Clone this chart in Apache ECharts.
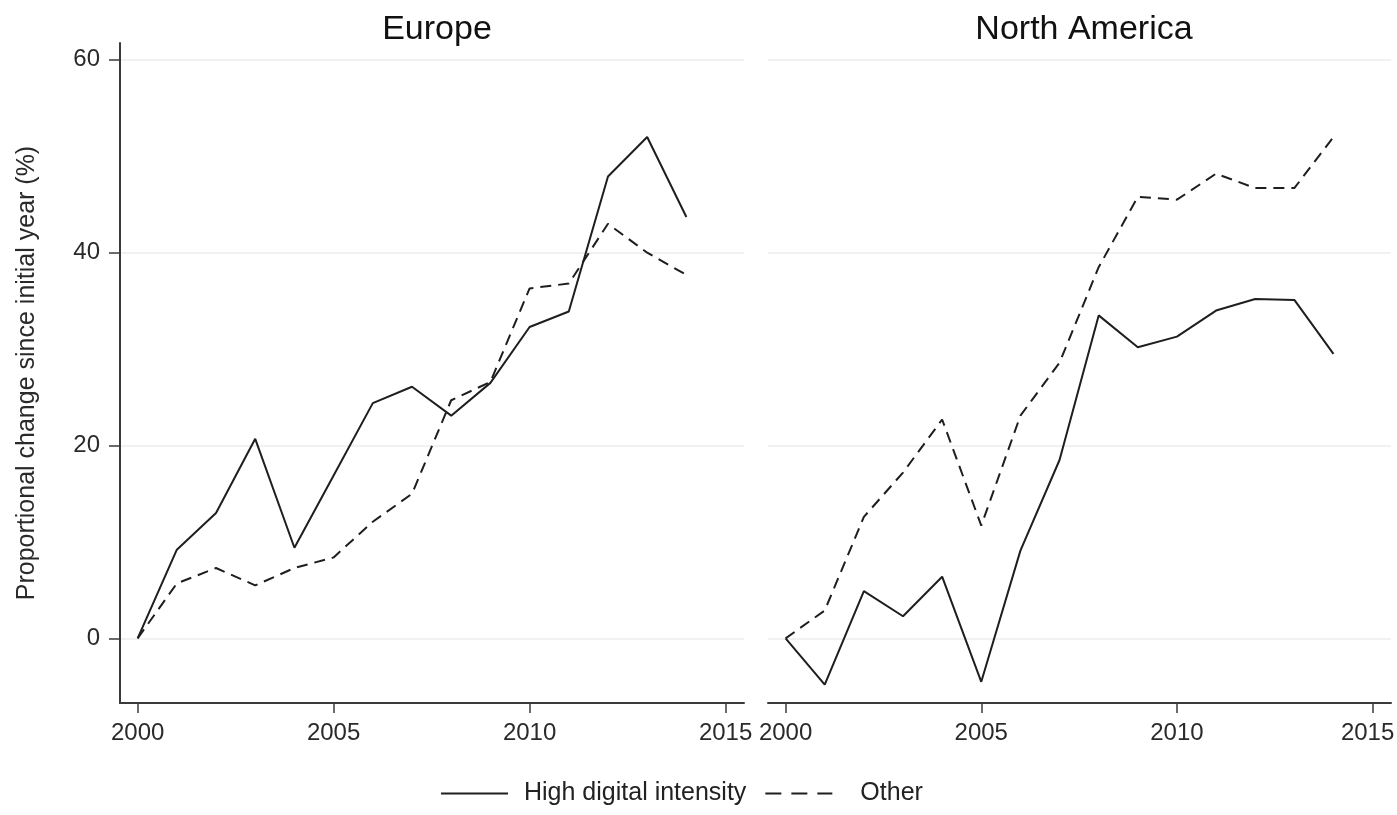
<!DOCTYPE html>
<html>
<head>
<meta charset="utf-8">
<script src="https://cdn.jsdelivr.net/npm/echarts@6/dist/echarts.min.js"></script>
<style>
  html, body { margin: 0; padding: 0; background: #fff; }
  #chart { width: 1397px; height: 815px; }
</style>
</head>
<body>
<div id="chart"></div>
<script>
// Years covered by both panels
const years = [2000, 2001, 2002, 2003, 2004, 2005, 2006, 2007, 2008, 2009, 2010, 2011, 2012, 2013, 2014];

// Proportional change since initial year (%), Europe
const europeHigh  = [0, 9.2, 13.0, 20.7, 9.4, 16.9, 24.4, 26.1, 23.1, 26.5, 32.3, 33.9, 47.9, 52.0, 43.7];
const europeOther = [0, 5.7, 7.3, 5.5, 7.3, 8.4, 12.1, 15.0, 24.7, 26.6, 36.3, 36.8, 43.0, 40.0, 37.7];

// Proportional change since initial year (%), North America
const naHigh  = [0, -4.8, 4.9, 2.3, 6.4, -4.5, 9.1, 18.5, 33.5, 30.2, 31.3, 34.0, 35.2, 35.1, 29.5];
const naOther = [0, 2.9, 12.6, 17.2, 22.7, 11.7, 23.1, 28.6, 38.5, 45.8, 45.5, 48.2, 46.7, 46.7, 52.0];

// Axis tick labels
const xTicks = [2000, 2005, 2010, 2015];
const yTicks = [0, 20, 40, 60];

const panelTitles = ['Europe', 'North America'];
const seriesNames = ['High digital intensity', 'Other'];
const yAxisTitle = 'Proportional change since initial year (%)';

const FONT = '"Liberation Sans", Arial, sans-serif';
const INK = '#1e1e1e';
const DASH = [11, 7];

const pairs = (vals) => years.map((y, i) => [y, vals[i]]);

function xAxisFor(gridIndex, nudgeLast) {
  const lastTick = xTicks[xTicks.length - 1];
  return {
    type: 'value',
    gridIndex: gridIndex,
    min: 1999.55,
    max: 2015.47,
    axisLine: { show: true, onZero: false, lineStyle: { color: '#3a3a3a', width: 2 } },
    axisTick: { show: true, customValues: xTicks, length: 10, lineStyle: { color: '#3a3a3a', width: 1.5 } },
    axisLabel: {
      customValues: xTicks, margin: 18, fontSize: 24, color: '#2a2a2a', fontFamily: FONT,
      // keep the right-most label of the outer panel inside the page
      formatter: (v) => (nudgeLast && v === lastTick) ? '{edge|' + v + '}' : String(v),
      rich: { edge: { fontSize: 24, color: '#2a2a2a', fontFamily: FONT, padding: [0, 10, 0, 0] } }
    },
    splitLine: { show: false }
  };
}

function yAxisFor(gridIndex, withAxis) {
  return {
    type: 'value',
    gridIndex: gridIndex,
    min: -6.7,
    max: 61.75,
    name: withAxis ? yAxisTitle : '',
    nameLocation: 'middle',
    nameGap: 80,
    nameTextStyle: { fontSize: 25, color: '#2a2a2a', fontFamily: FONT },
    axisLine: { show: withAxis, onZero: false, lineStyle: { color: '#3a3a3a', width: 2 } },
    axisTick: { show: withAxis, customValues: yTicks, length: 11, lineStyle: { color: '#3a3a3a', width: 1.5 } },
    axisLabel: { show: withAxis, customValues: yTicks, margin: 20, fontSize: 24, color: '#2a2a2a', fontFamily: FONT },
    splitLine: { show: true, lineStyle: { color: '#ececec', width: 1.5 } }
  };
}

function lineSeries(name, vals, idx, dashed) {
  return {
    type: 'line',
    name: name,
    xAxisIndex: idx,
    yAxisIndex: idx,
    data: pairs(vals),
    symbol: 'none',
    smooth: false,
    lineStyle: { color: INK, width: 2, type: dashed ? DASH : 'solid' },
    itemStyle: { color: INK },
    emphasis: { disabled: true },
    z: dashed ? 3 : 4
  };
}

const chart = echarts.init(document.getElementById('chart'), null, { renderer: 'canvas' });

chart.setOption({
  backgroundColor: '#ffffff',
  animation: false,
  title: [
    { text: panelTitles[0], left: 432, top: 8, textAlign: 'center',
      textStyle: { fontSize: 34, fontWeight: 'normal', color: '#111', fontFamily: FONT } },
    { text: panelTitles[1], left: 1079, top: 8, textAlign: 'center',
      textStyle: { fontSize: 34, fontWeight: 'normal', color: '#111', fontFamily: FONT } }
  ],
  grid: [
    { left: 120, top: 43, width: 624, height: 660, outerBoundsMode: 'none', containLabel: false },
    { left: 768, top: 43, width: 623, height: 660, outerBoundsMode: 'none', containLabel: false }
  ],
  xAxis: [xAxisFor(0, false), xAxisFor(1, true)],
  yAxis: [yAxisFor(0, true), yAxisFor(1, false)],
  legend: {
    data: [
      { name: seriesNames[0] },
      { name: seriesNames[1], lineStyle: { type: [16, 10] },
        textStyle: { padding: [0, 0, 0, 23] } }
    ],
    left: 435,
    top: 776,
    itemWidth: 67,
    itemHeight: 22,
    itemGap: 18,
    itemStyle: { opacity: 0 },
    lineStyle: { width: 2, color: INK },
    textStyle: { fontSize: 25, color: '#222', fontFamily: FONT, padding: [0, 0, 0, 11] },
    selectedMode: false
  },
  series: [
    lineSeries(seriesNames[0], europeHigh, 0, false),
    lineSeries(seriesNames[1], europeOther, 0, true),
    lineSeries(seriesNames[0], naHigh, 1, false),
    lineSeries(seriesNames[1], naOther, 1, true)
  ]
});
</script>
</body>
</html>
